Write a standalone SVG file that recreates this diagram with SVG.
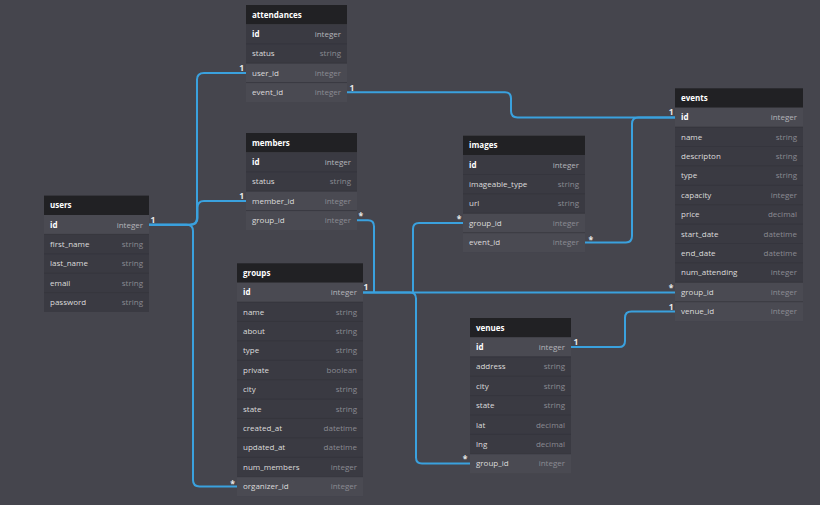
<svg xmlns="http://www.w3.org/2000/svg" width="820" height="505" viewBox="0 0 820 505">
<style>
.bg{fill:#45454d}
.h{fill:#212124}
.r{fill:#3a3a42}
.rl{fill:#4a4a52}
.sep{stroke:#34343b;stroke-width:0.7}
text{font-family:"Open Sans","DejaVu Sans",sans-serif;font-size:8px}
.ht{fill:#ffffff;font-weight:bold}
.f{fill:#dcdcdc}
.pk{fill:#ffffff;font-weight:bold}
.t{fill:#8a8a92;text-anchor:end}
.tp{fill:#b4b4ba;text-anchor:end}
.c{fill:none;stroke:#3aa1de;stroke-width:2}
.lb{fill:#e8e8e8;font-weight:bold;font-size:8.5px}
.e{text-anchor:end}
</style>
<rect class="bg" x="0" y="0" width="820" height="505"/>

<g id="connectors">
<path class="c" d="M149,224.7 H190 Q197,224.7 197,218 V79.5 Q197,72.9 204,72.9 H246"/>
<path class="c" d="M149,224.7 H190 Q197.5,224.7 197.5,218 V207.5 Q197.5,200.9 204,200.9 H246"/>
<path class="c" d="M149,224.7 H186.5 Q193,224.7 193,231 V480 Q193,486.4 199.5,486.4 H237"/>
<path class="c" d="M347,92.3 H505 Q511,92.3 511,98.5 V111 Q511,117.4 517.5,117.4 H675"/>
<path class="c" d="M585,242.4 H626 Q632,242.4 632,236 V123.8 Q632,117.4 638.5,117.4 H675"/>
<path class="c" d="M357,220.3 H368 Q374,220.3 374,226.5 V292.4"/>
<path class="c" d="M363,292.4 H675"/>
<path class="c" d="M463,223 H419 Q413,223 413,229 V292.4"/>
<path class="c" d="M363,292.4 H410 Q416,292.4 416,298.5 V457.5 Q416,463.5 422,463.5 H470"/>
<path class="c" d="M571,347.1 H619 Q625,347.1 625,341 V317.8 Q625,311.4 631.5,311.4 H675"/>
<text class="lb" x="150.5" y="222.5">1</text>
<text class="lb e" x="244" y="70.5">1</text>
<text class="lb e" x="244" y="198.5">1</text>
<text class="lb e" x="235" y="487">*</text>
<text class="lb" x="349.5" y="90.5">1</text>
<text class="lb" x="358.5" y="219">*</text>
<text class="lb" x="363.5" y="289.5">1</text>
<text class="lb e" x="461.5" y="221.5">*</text>
<text class="lb" x="588.5" y="242.5">*</text>
<text class="lb e" x="673.5" y="114.5">1</text>
<text class="lb e" x="673.5" y="291">*</text>
<text class="lb e" x="673.5" y="310">1</text>
<text class="lb" x="573.5" y="344.5">1</text>
<text class="lb e" x="467.5" y="461.5">*</text>
</g>

<g id="attendances" transform="translate(246,5)">
<rect class="h" x="0" y="0" width="101" height="19.4"/>
<text class="ht" x="6" y="12.8">attendances</text>
<rect class="r" x="0" y="19.4" width="101" height="19.4"/>
<text class="pk" x="6" y="32">id</text><text class="tp" x="95" y="32">integer</text>
<rect class="r" x="0" y="38.8" width="101" height="19.4"/>
<text class="f" x="6" y="51.4">status</text><text class="t" x="95" y="51.4">string</text>
<rect class="rl" x="0" y="58.2" width="101" height="19.4"/>
<text class="f" x="6" y="70.8">user_id</text><text class="t" x="95" y="70.8">integer</text>
<rect class="rl" x="0" y="77.6" width="101" height="19.4"/>
<text class="f" x="6" y="90.2">event_id</text><text class="t" x="95" y="90.2">integer</text>
<line class="sep" x1="0" y1="38.8" x2="101" y2="38.8"/>
<line class="sep" x1="0" y1="58.2" x2="101" y2="58.2"/>
<line class="sep" x1="0" y1="77.6" x2="101" y2="77.6"/>
</g>

<g id="members" transform="translate(246,133)">
<rect class="h" x="0" y="0" width="111" height="19.4"/>
<text class="ht" x="6" y="12.8">members</text>
<rect class="r" x="0" y="19.4" width="111" height="19.4"/>
<text class="pk" x="6" y="32">id</text><text class="tp" x="105" y="32">integer</text>
<rect class="r" x="0" y="38.8" width="111" height="19.4"/>
<text class="f" x="6" y="51.4">status</text><text class="t" x="105" y="51.4">string</text>
<rect class="rl" x="0" y="58.2" width="111" height="19.4"/>
<text class="f" x="6" y="70.8">member_id</text><text class="t" x="105" y="70.8">integer</text>
<rect class="rl" x="0" y="77.6" width="111" height="19.4"/>
<text class="f" x="6" y="90.2">group_id</text><text class="t" x="105" y="90.2">integer</text>
<line class="sep" x1="0" y1="38.8" x2="111" y2="38.8"/>
<line class="sep" x1="0" y1="58.2" x2="111" y2="58.2"/>
<line class="sep" x1="0" y1="77.6" x2="111" y2="77.6"/>
</g>

<g id="users" transform="translate(44,195.6)">
<rect class="h" x="0" y="0" width="105" height="19.4"/>
<text class="ht" x="6" y="12.8">users</text>
<rect class="rl" x="0" y="19.4" width="105" height="19.4"/>
<text class="pk" x="6" y="32">id</text><text class="tp" x="99" y="32">integer</text>
<rect class="r" x="0" y="38.8" width="105" height="19.4"/>
<text class="f" x="6" y="51.4">first_name</text><text class="t" x="99" y="51.4">string</text>
<rect class="r" x="0" y="58.2" width="105" height="19.4"/>
<text class="f" x="6" y="70.8">last_name</text><text class="t" x="99" y="70.8">string</text>
<rect class="r" x="0" y="77.6" width="105" height="19.4"/>
<text class="f" x="6" y="90.2">email</text><text class="t" x="99" y="90.2">string</text>
<rect class="r" x="0" y="97" width="105" height="19.4"/>
<text class="f" x="6" y="109.6">password</text><text class="t" x="99" y="109.6">string</text>
<line class="sep" x1="0" y1="38.8" x2="105" y2="38.8"/>
<line class="sep" x1="0" y1="58.2" x2="105" y2="58.2"/>
<line class="sep" x1="0" y1="77.6" x2="105" y2="77.6"/>
<line class="sep" x1="0" y1="97" x2="105" y2="97"/>
</g>

<g id="groups" transform="translate(237,263.3)">
<rect class="h" x="0" y="0" width="126" height="19.4"/>
<text class="ht" x="6" y="12.8">groups</text>
<rect class="rl" x="0" y="19.4" width="126" height="19.4"/>
<text class="pk" x="6" y="32">id</text><text class="tp" x="120" y="32">integer</text>
<rect class="r" x="0" y="38.8" width="126" height="174.6"/>
<text class="f" x="6" y="51.4">name</text><text class="t" x="120" y="51.4">string</text>
<text class="f" x="6" y="70.8">about</text><text class="t" x="120" y="70.8">string</text>
<text class="f" x="6" y="90.2">type</text><text class="t" x="120" y="90.2">string</text>
<text class="f" x="6" y="109.6">private</text><text class="t" x="120" y="109.6">boolean</text>
<text class="f" x="6" y="129">city</text><text class="t" x="120" y="129">string</text>
<text class="f" x="6" y="148.4">state</text><text class="t" x="120" y="148.4">string</text>
<text class="f" x="6" y="167.8">created_at</text><text class="t" x="120" y="167.8">datetime</text>
<text class="f" x="6" y="187.2">updated_at</text><text class="t" x="120" y="187.2">datetime</text>
<text class="f" x="6" y="206.6">num_members</text><text class="t" x="120" y="206.6">integer</text>
<rect class="rl" x="0" y="213.4" width="126" height="19.4"/>
<text class="f" x="6" y="226">organizer_id</text><text class="t" x="120" y="226">integer</text>
<line class="sep" x1="0" y1="38.8" x2="126" y2="38.8"/>
<line class="sep" x1="0" y1="58.2" x2="126" y2="58.2"/>
<line class="sep" x1="0" y1="77.6" x2="126" y2="77.6"/>
<line class="sep" x1="0" y1="97" x2="126" y2="97"/>
<line class="sep" x1="0" y1="116.4" x2="126" y2="116.4"/>
<line class="sep" x1="0" y1="135.8" x2="126" y2="135.8"/>
<line class="sep" x1="0" y1="155.2" x2="126" y2="155.2"/>
<line class="sep" x1="0" y1="174.6" x2="126" y2="174.6"/>
<line class="sep" x1="0" y1="194" x2="126" y2="194"/>
<line class="sep" x1="0" y1="213.4" x2="126" y2="213.4"/>
</g>

<g id="images" transform="translate(463,135.7)">
<rect class="h" x="0" y="0" width="122" height="19.4"/>
<text class="ht" x="6" y="12.8">images</text>
<rect class="r" x="0" y="19.4" width="122" height="58.2"/>
<text class="pk" x="6" y="32">id</text><text class="tp" x="116" y="32">integer</text>
<text class="f" x="6" y="51.4">imageable_type</text><text class="t" x="116" y="51.4">string</text>
<text class="f" x="6" y="70.8">url</text><text class="t" x="116" y="70.8">string</text>
<rect class="rl" x="0" y="77.6" width="122" height="38.8"/>
<text class="f" x="6" y="90.2">group_id</text><text class="t" x="116" y="90.2">integer</text>
<text class="f" x="6" y="109.6">event_id</text><text class="t" x="116" y="109.6">integer</text>
<line class="sep" x1="0" y1="38.8" x2="122" y2="38.8"/>
<line class="sep" x1="0" y1="58.2" x2="122" y2="58.2"/>
<line class="sep" x1="0" y1="77.6" x2="122" y2="77.6"/>
<line class="sep" x1="0" y1="97" x2="122" y2="97"/>
</g>

<g id="events" transform="translate(675,88.3)">
<rect class="h" x="0" y="0" width="128" height="19.4"/>
<text class="ht" x="6" y="12.8">events</text>
<rect class="rl" x="0" y="19.4" width="128" height="19.4"/>
<text class="pk" x="6" y="32">id</text><text class="tp" x="122" y="32">integer</text>
<rect class="r" x="0" y="38.8" width="128" height="155.2"/>
<text class="f" x="6" y="51.4">name</text><text class="t" x="122" y="51.4">string</text>
<text class="f" x="6" y="70.8">descripton</text><text class="t" x="122" y="70.8">string</text>
<text class="f" x="6" y="90.2">type</text><text class="t" x="122" y="90.2">string</text>
<text class="f" x="6" y="109.6">capacity</text><text class="t" x="122" y="109.6">integer</text>
<text class="f" x="6" y="129">price</text><text class="t" x="122" y="129">decimal</text>
<text class="f" x="6" y="148.4">start_date</text><text class="t" x="122" y="148.4">datetime</text>
<text class="f" x="6" y="167.8">end_date</text><text class="t" x="122" y="167.8">datetime</text>
<text class="f" x="6" y="187.2">num_attending</text><text class="t" x="122" y="187.2">integer</text>
<rect class="rl" x="0" y="194" width="128" height="38.8"/>
<text class="f" x="6" y="206.6">group_id</text><text class="t" x="122" y="206.6">integer</text>
<text class="f" x="6" y="226">venue_id</text><text class="t" x="122" y="226">integer</text>
<line class="sep" x1="0" y1="38.8" x2="128" y2="38.8"/>
<line class="sep" x1="0" y1="58.2" x2="128" y2="58.2"/>
<line class="sep" x1="0" y1="77.6" x2="128" y2="77.6"/>
<line class="sep" x1="0" y1="97" x2="128" y2="97"/>
<line class="sep" x1="0" y1="116.4" x2="128" y2="116.4"/>
<line class="sep" x1="0" y1="135.8" x2="128" y2="135.8"/>
<line class="sep" x1="0" y1="155.2" x2="128" y2="155.2"/>
<line class="sep" x1="0" y1="174.6" x2="128" y2="174.6"/>
<line class="sep" x1="0" y1="194" x2="128" y2="194"/>
<line class="sep" x1="0" y1="213.4" x2="128" y2="213.4"/>
</g>

<g id="venues" transform="translate(470,318)">
<rect class="h" x="0" y="0" width="101" height="19.4"/>
<text class="ht" x="6" y="12.8">venues</text>
<rect class="rl" x="0" y="19.4" width="101" height="19.4"/>
<text class="pk" x="6" y="32">id</text><text class="tp" x="95" y="32">integer</text>
<rect class="r" x="0" y="38.8" width="101" height="97"/>
<text class="f" x="6" y="51.4">address</text><text class="t" x="95" y="51.4">string</text>
<text class="f" x="6" y="70.8">city</text><text class="t" x="95" y="70.8">string</text>
<text class="f" x="6" y="90.2">state</text><text class="t" x="95" y="90.2">string</text>
<text class="f" x="6" y="109.6">lat</text><text class="t" x="95" y="109.6">decimal</text>
<text class="f" x="6" y="129">lng</text><text class="t" x="95" y="129">decimal</text>
<rect class="rl" x="0" y="135.8" width="101" height="19.4"/>
<text class="f" x="6" y="148.4">group_id</text><text class="t" x="95" y="148.4">integer</text>
<line class="sep" x1="0" y1="38.8" x2="101" y2="38.8"/>
<line class="sep" x1="0" y1="58.2" x2="101" y2="58.2"/>
<line class="sep" x1="0" y1="77.6" x2="101" y2="77.6"/>
<line class="sep" x1="0" y1="97" x2="101" y2="97"/>
<line class="sep" x1="0" y1="116.4" x2="101" y2="116.4"/>
<line class="sep" x1="0" y1="135.8" x2="101" y2="135.8"/>
</g>
</svg>
